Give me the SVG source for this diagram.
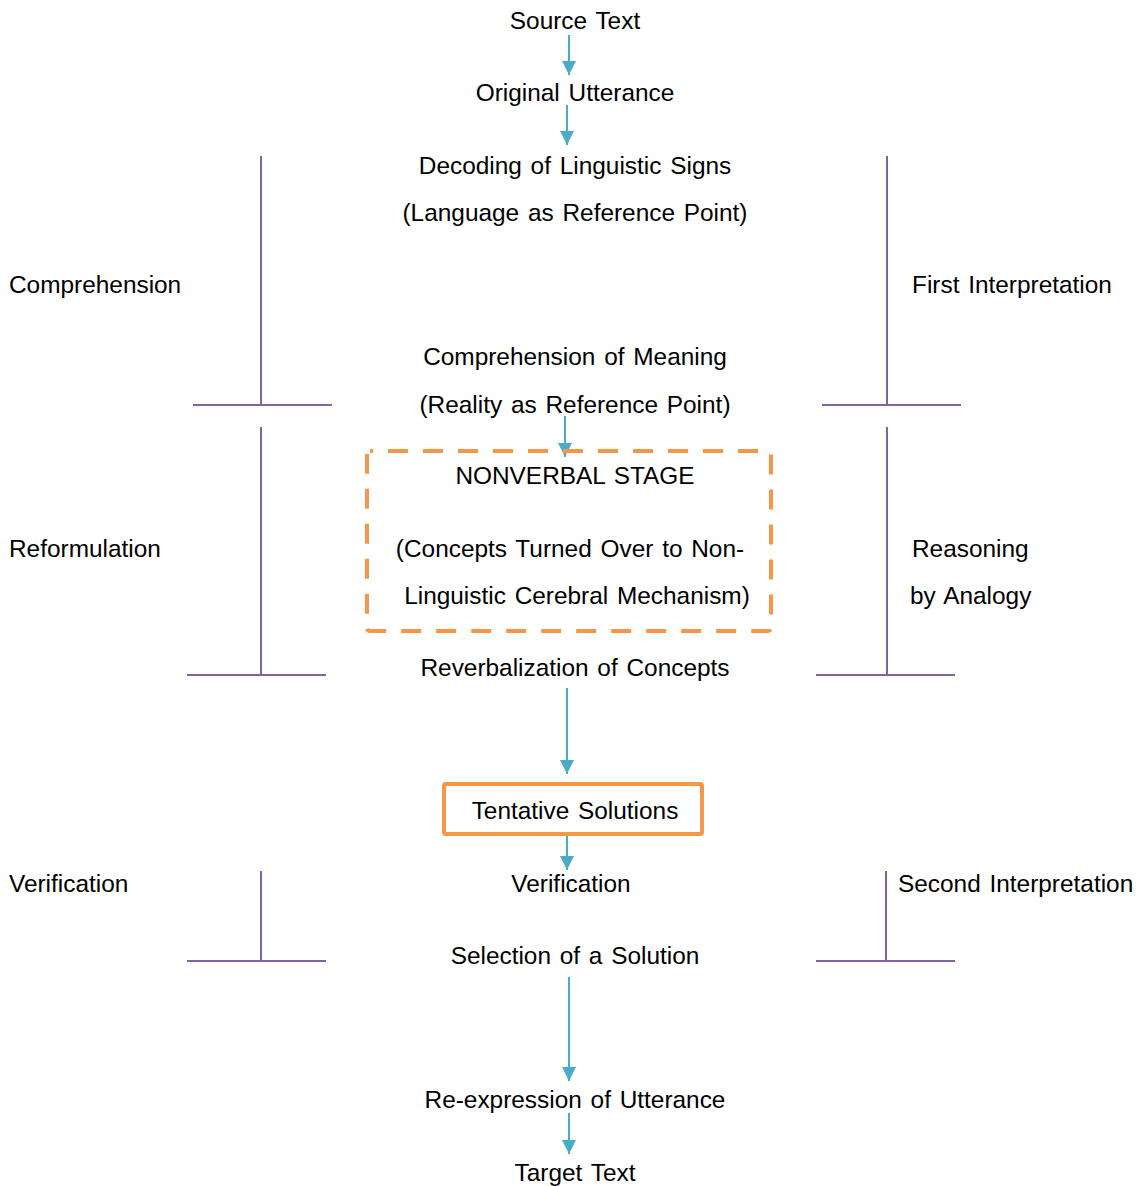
<svg xmlns="http://www.w3.org/2000/svg" width="1139" height="1186" viewBox="0 0 1139 1186">
<style>
text{font-family:"Liberation Sans",Arial,sans-serif;font-size:24.4px;fill:#000;word-spacing:2px}
.c{text-anchor:middle}
.br{stroke:#8064A2;stroke-width:2;fill:none}
.ar{stroke:#4BACC6;stroke-width:2;fill:none;marker-end:url(#ah)}
</style>
<defs>
<marker id="ah" markerUnits="userSpaceOnUse" markerWidth="16" markerHeight="16" refX="14" refY="7" orient="auto">
<path d="M0,0 L14,7 L0,14 Z" fill="#4BACC6"/>
</marker>
</defs>
<rect width="1139" height="1186" fill="#fff"/>
<g id="connectors">
<line class="ar" x1="569" y1="35" x2="569" y2="75"/>
<line class="ar" x1="567" y1="105" x2="567" y2="145"/>
<line class="ar" x1="565" y1="416" x2="565" y2="457"/>
<line class="ar" x1="567" y1="688" x2="567" y2="774"/>
<line class="ar" x1="567" y1="834" x2="567" y2="870"/>
<line class="ar" x1="569" y1="977" x2="569" y2="1081"/>
<line class="ar" x1="569" y1="1113" x2="569" y2="1154"/>
</g>
<g id="brackets">
<path class="br" d="M261,156 V405 M193,405 H332"/>
<path class="br" d="M887,156 V405 M822,405 H961"/>
<path class="br" d="M261,427 V675 M187,675 H326"/>
<path class="br" d="M887,427 V675 M816,675 H955"/>
<path class="br" d="M261,871 V961 M187,961 H326"/>
<path class="br" d="M886,871 V961 M816,961 H955"/>
</g>
<g id="source"><text class="c" x="575" y="29">Source Text</text></g>
<g id="original"><text class="c" x="575" y="101">Original Utterance</text></g>
<g id="decoding"><text class="c" x="575" y="174">Decoding of Linguistic Signs</text><text class="c" x="575" y="221">(Language as Reference Point)</text></g>
<g id="comprehension-label"><text x="9" y="293">Comprehension</text></g>
<g id="first-interpretation"><text x="912" y="293">First Interpretation</text></g>
<g id="meaning"><text class="c" x="575" y="365">Comprehension of Meaning</text><text class="c" x="575" y="413">(Reality as Reference Point)</text></g>
<g id="nonverbal">
<rect x="367" y="451" width="404" height="180" rx="3" fill="none" stroke="#F79646" stroke-width="4" stroke-dasharray="20 15" stroke-dashoffset="17"/>
<text class="c" x="575" y="484">NONVERBAL STAGE</text>
<text class="c" x="570" y="557">(Concepts Turned Over to Non-</text>
<text class="c" x="577" y="604">Linguistic Cerebral Mechanism)</text>
</g>
<g id="reformulation"><text x="9" y="557">Reformulation</text></g>
<g id="reasoning"><text x="912" y="557">Reasoning</text><text x="910" y="604">by Analogy</text></g>
<g id="reverbalization"><text class="c" x="575" y="676">Reverbalization of Concepts</text></g>
<g id="tentative">
<rect x="444" y="784" width="258" height="50" rx="2" fill="none" stroke="#F79646" stroke-width="4"/>
<text class="c" x="575" y="819">Tentative Solutions</text>
</g>
<g id="verification"><text class="c" x="571" y="892">Verification</text></g>
<g id="verification-label"><text x="9" y="892">Verification</text></g>
<g id="second-interpretation"><text x="898" y="892">Second Interpretation</text></g>
<g id="selection"><text class="c" x="575" y="964">Selection of a Solution</text></g>
<g id="reexpression"><text class="c" x="575" y="1108">Re-expression of Utterance</text></g>
<g id="target"><text class="c" x="575" y="1181">Target Text</text></g>
</svg>
